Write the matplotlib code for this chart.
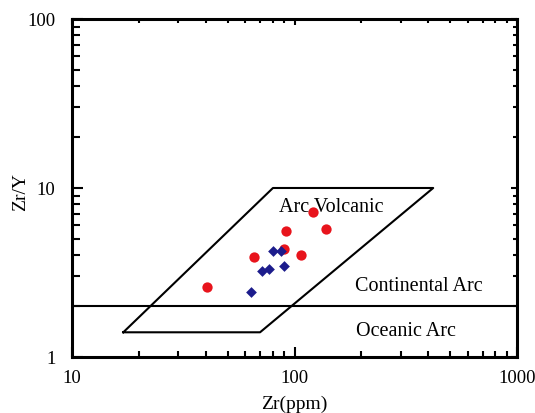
import matplotlib
matplotlib.use('Agg')
import matplotlib.pyplot as plt

# поля диаграммы Zr/Y - Zr
arc_x = [17, 70, 420, 80, 17]
arc_y = [1.4, 1.4, 10, 10, 1.4]
boundary_y = 2

# образцы: красные круги
red_zr = [40.6, 65.9, 91.5, 89.9, 107, 121, 138]
red_ratio = [2.59, 3.91, 5.59, 4.38, 4.03, 7.18, 5.73]

# образцы: синие ромбы
blue_zr = [79.7, 86.9, 71.1, 76.9, 89.4, 63.6]
blue_ratio = [4.22, 4.26, 3.21, 3.33, 3.45, 2.42]

plt.rcParams['font.family'] = ['Liberation Serif', 'DejaVu Serif']

fig = plt.figure(figsize=(5.35, 4.14), dpi=100)
ax = fig.add_axes([0.1346, 0.1353, 0.8318, 0.8164])

ax.plot(arc_x, arc_y, color='black', lw=1.5)
ax.axhline(boundary_y, color='black', lw=1.5)

ax.scatter(red_zr, red_ratio, s=55, color='#e8141c', marker='o', zorder=3, linewidths=0)
ax.scatter(blue_zr, blue_ratio, s=30, color='#1c1c8c', marker='D', zorder=3, linewidths=0)

ax.text(147, 7.8, 'Arc Volcanic', fontsize=14.5, ha='center', va='center')
ax.text(363, 2.65, 'Continental Arc', fontsize=14.5, ha='center', va='center')
ax.text(317, 1.44, 'Oceanic Arc', fontsize=14.5, ha='center', va='center')

ax.set_xscale('log')
ax.set_yscale('log')
ax.set_xlim(10, 1000)
ax.set_ylim(1, 100)
ax.set_xticks([10, 100, 1000])
ax.set_xticklabels(['10', '100', '1000'])
ax.set_yticks([1, 10, 100])
ax.set_yticklabels(['1', '10', '100'])

ax.tick_params(which='both', direction='in', top=True, right=True, labelsize=13.5, width=1.5)
ax.tick_params(axis='y', which='both', pad=12)
ax.tick_params(axis='x', which='both', pad=9)

# длинные штрихи слева и снизу, короткие справа и сверху
for t in ax.yaxis.get_major_ticks():
    t.tick1line.set_markersize(8)
    t.tick2line.set_markersize(4)
for t in ax.yaxis.get_minor_ticks():
    t.tick1line.set_markersize(6)
    t.tick2line.set_markersize(3)
for t in ax.xaxis.get_major_ticks():
    t.tick1line.set_markersize(7)
    t.tick2line.set_markersize(4)
for t in ax.xaxis.get_minor_ticks():
    t.tick1line.set_markersize(4)
    t.tick2line.set_markersize(3)

for s in ax.spines.values():
    s.set_linewidth(2.2)

ax.set_xlabel('Zr(ppm)', fontsize=14, labelpad=6)
ax.set_ylabel('Zr/Y', fontsize=14)
ax.yaxis.set_label_coords(-0.097, 0.49)

fig.savefig('out.png', dpi=100)
